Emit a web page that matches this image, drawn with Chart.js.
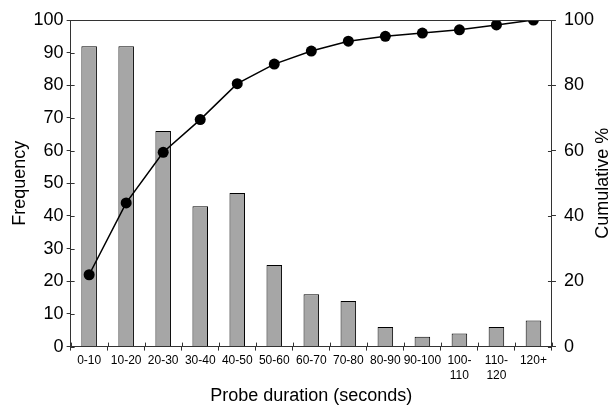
<!DOCTYPE html>
<html>
<head>
<meta charset="utf-8">
<script src="https://cdn.jsdelivr.net/npm/chart.js@4"></script>
<style>
  html, body { margin: 0; padding: 0; background: #fff; }
  #wrap { width: 613px; height: 407px; }
</style>
</head>
<body>
<div id="wrap"><canvas id="chart-probe"></canvas></div>
<script>
// data
const categories = ['0-10', '10-20', '20-30', '30-40', '40-50', '50-60', '60-70', '70-80',
    '80-90', '90-100', ['100-', '110'], ['110-', '120'], '120+'];
const frequency = [92, 92, 66, 43, 47, 25, 16, 14, 6, 3, 4, 6, 8];
const cumulative = [22, 44, 59.5, 69.5, 80.5, 86.5, 90.5, 93.5, 95, 96, 97, 98.5, 100];
const freqTicks = [0, 10, 20, 30, 40, 50, 60, 70, 80, 90, 100];
const cumTicks = [0, 20, 40, 60, 80, 100];

const FONT = 'Liberation Sans, Arial, Helvetica, sans-serif';
const AXIS = '#333';
const TICK = 4;

// top frame line, inner half of the tick marks, right title read bottom-to-top
const frameExtras = {
    id: 'frameExtras',
    afterDraw(chart) {
        const a = chart.chartArea, ctx = chart.ctx;
        const s = chart.scales;
        ctx.save();
        ctx.strokeStyle = AXIS;
        ctx.lineWidth = 1;
        ctx.beginPath();
        ctx.moveTo(a.left, a.top + 0.5);
        ctx.lineTo(a.right, a.top + 0.5);
        // inward ticks on y
        s.y.ticks.forEach(t => {
            const py = Math.round(s.y.getPixelForValue(t.value)) + 0.5;
            ctx.moveTo(a.left, py); ctx.lineTo(a.left + TICK, py);
        });
        s.y1.ticks.forEach(t => {
            const py = Math.round(s.y1.getPixelForValue(t.value)) + 0.5;
            ctx.moveTo(a.right, py); ctx.lineTo(a.right - TICK, py);
        });
        // inward ticks on x at category boundaries
        const n = categories.length;
        for (let k = 0; k <= n; k++) {
            const px = Math.round(s.x.left + k * (s.x.width / n)) + 0.5;
            ctx.moveTo(px, a.bottom); ctx.lineTo(px, a.bottom - TICK);
        }
        ctx.stroke();

        ctx.fillStyle = '#000';
        ctx.font = '18px ' + FONT;
        ctx.textAlign = 'center';
        ctx.textBaseline = 'middle';
        ctx.translate(603, (a.top + a.bottom) / 2);
        ctx.rotate(-Math.PI / 2);
        ctx.fillText('Cumulative %', 0, 0);
        ctx.restore();
    }
};

document.addEventListener('DOMContentLoaded', function () {
    const ctx = document.getElementById('chart-probe').getContext('2d');
    new Chart(ctx, {
        type: 'bar',
        data: {
            labels: categories,
            datasets: [
                {
                    type: 'line',
                    label: 'Cumulative %',
                    data: cumulative,
                    yAxisID: 'y1',
                    borderColor: '#000',
                    backgroundColor: '#000',
                    borderWidth: 1.5,
                    pointRadius: 5.5,
                    pointBorderWidth: 0,
                    tension: 0,
                    order: 0
                },
                {
                    label: 'Frequency',
                    data: frequency,
                    yAxisID: 'y',
                    backgroundColor: '#a6a6a6',
                    borderColor: '#000',
                    borderWidth: 1,
                    barPercentage: 0.42,
                    categoryPercentage: 1,
                    order: 1
                }
            ]
        },
        options: {
            responsive: true,
            maintainAspectRatio: false,
            animation: false,
            layout: { padding: { top: 20, right: 11, left: 4, bottom: 0 } },
            plugins: { legend: { display: false }, tooltip: { enabled: false } },
            scales: {
                x: {
                    offset: true,
                    grid: { display: true, offset: true, drawOnChartArea: false, tickLength: TICK, color: AXIS },
                    border: { color: AXIS, width: 1 },
                    ticks: { color: '#000', font: { family: FONT, size: 12 }, maxRotation: 0, autoSkip: false, padding: 3 },
                    title: { display: true, text: 'Probe duration (seconds)', color: '#000', font: { family: FONT, size: 18 }, padding: { top: 0, bottom: 0 } }
                },
                y: {
                    position: 'left',
                    min: 0, max: 100,
                    afterBuildTicks: axis => { axis.ticks = freqTicks.map(v => ({ value: v })); },
                    grid: { display: true, drawOnChartArea: false, tickLength: TICK, color: AXIS },
                    border: { color: AXIS, width: 1 },
                    ticks: { color: '#000', font: { family: FONT, size: 18 }, padding: 3 },
                    title: { display: true, text: 'Frequency', color: '#000', font: { family: FONT, size: 18 }, padding: { top: 5, bottom: 0 } }
                },
                y1: {
                    position: 'right',
                    min: 0, max: 100,
                    afterBuildTicks: axis => { axis.ticks = cumTicks.map(v => ({ value: v })); },
                    grid: { display: true, drawOnChartArea: false, tickLength: TICK, color: AXIS },
                    border: { color: AXIS, width: 1 },
                    ticks: { color: '#000', font: { family: FONT, size: 18 }, padding: 8 },
                    title: { display: false }
                }
            }
        },
        plugins: [frameExtras]
    });
});
</script>
</body>
</html>
